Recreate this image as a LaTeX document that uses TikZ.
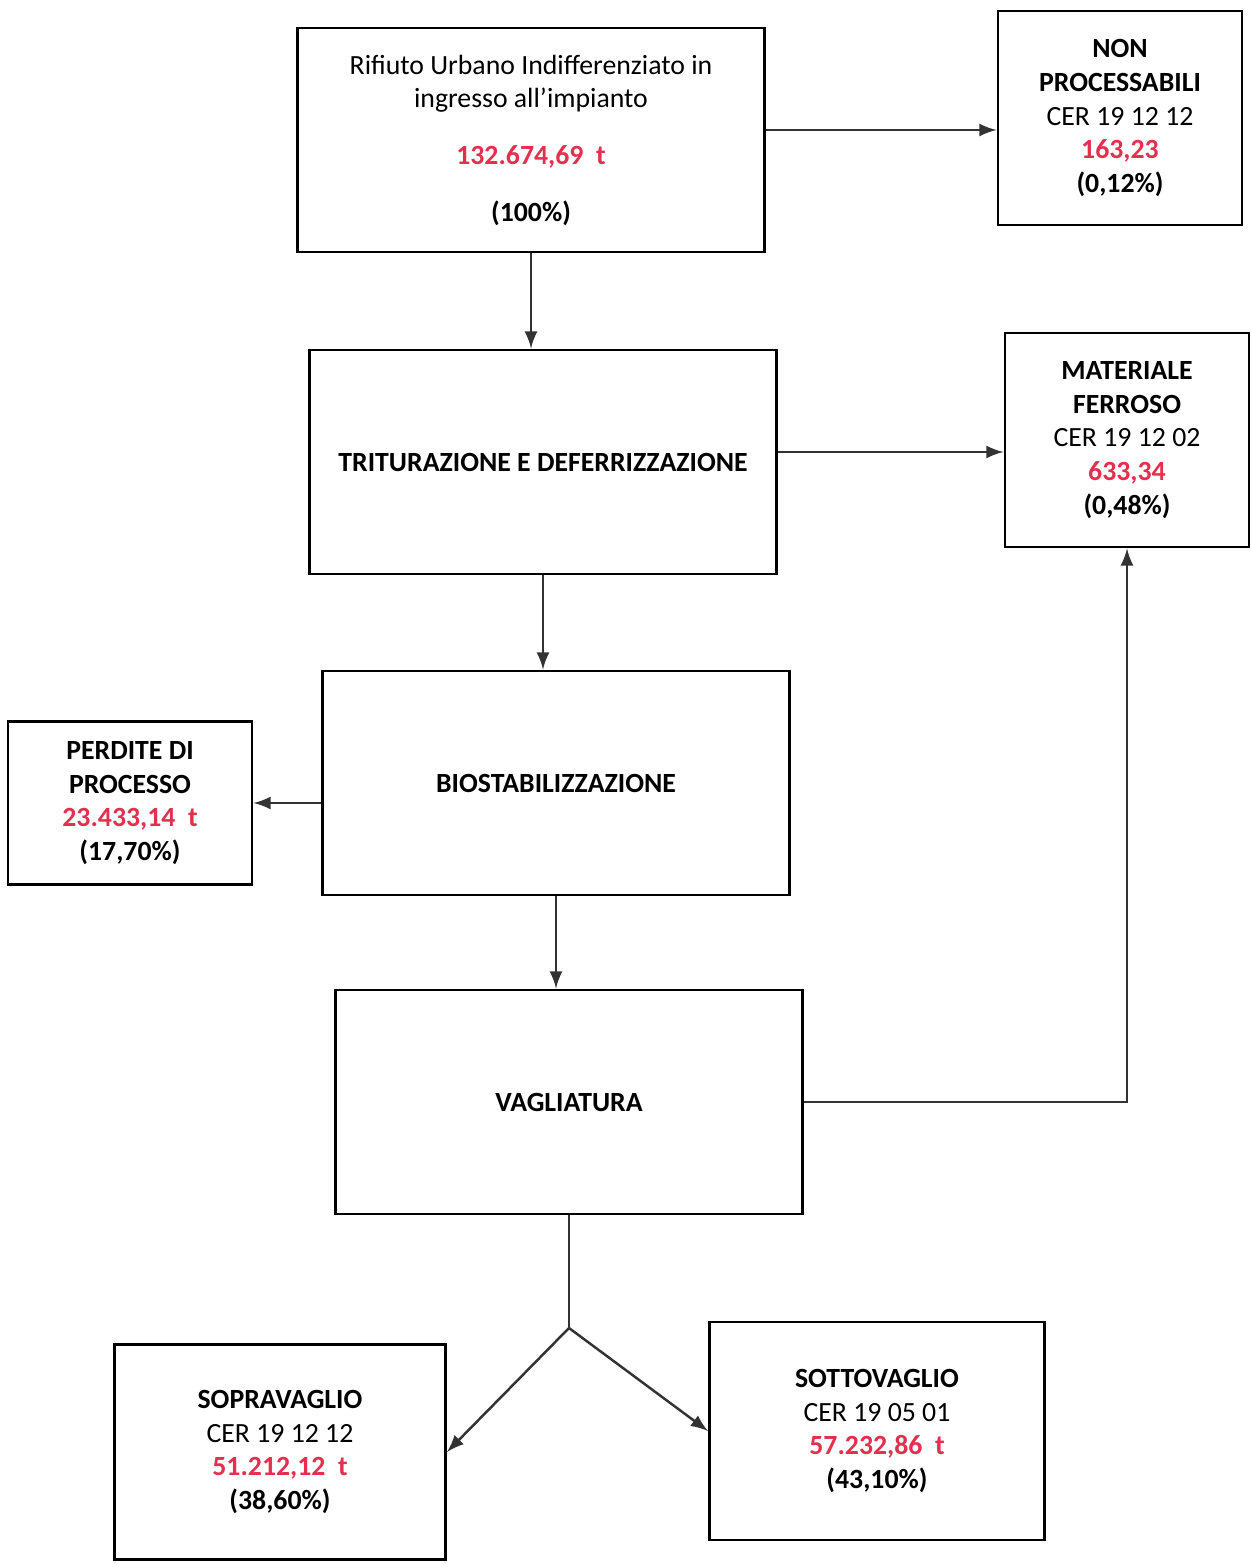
\documentclass[tikz,border=0pt]{standalone}
\usepackage{fontspec}
\setmainfont{Carlito}
\usetikzlibrary{shapes,arrows,positioning,fit}
\definecolor{valred}{RGB}{228,48,78}
\newcommand{\val}[1]{\textcolor{valred}{\textbf{#1}}}

\begin{document}
\begin{tikzpicture}[x=0.01cm,y=-0.01cm]
			\tikzstyle{Stage}	= [draw, line width=0.8pt, align=center, inner sep=2pt, font=\fontsize{7.9}{9.6}\selectfont]
			\tikzstyle{Big}		= [minimum width=4.66cm, minimum height=2.24cm]
			\tikzstyle{Out}		= [minimum width=2.44cm, minimum height=2.14cm]
			\tikzstyle{Flow}	= [-latex, line width=0.7pt, black!80]

			\useasboundingbox (0,0) rectangle (1251,1564);

			\node (rifiuto) at (531,140) [Stage][Big] {Rifiuto Urbano Indifferenziato in\\ ingresso all'impianto\\[6.5pt] \val{132.674,69\ \ t}\\[6.5pt] \textbf{(100\%)}};
			\node (nonproc) at (1120,118) [Stage][Out] {\textbf{NON}\\ \textbf{PROCESSABILI}\\ CER 19 12 12\\ \val{163,23}\\ \textbf{(0,12\%)}};
			\node (trit) at (543,462) [Stage][Big] {\textbf{TRITURAZIONE E DEFERRIZZAZIONE}};
			\node (ferroso) at (1127,440) [Stage][Out] {\textbf{MATERIALE}\\ \textbf{FERROSO}\\ CER 19 12 02\\ \val{633,34}\\ \textbf{(0,48\%)}};
			\node (biostab) at (556,783) [Stage][Big] {\textbf{BIOSTABILIZZAZIONE}};
			\node (perdite) at (130,803) [Stage, minimum width=2.44cm, minimum height=1.63cm] {\textbf{PERDITE DI}\\ \textbf{PROCESSO}\\ \val{23.433,14\ \ t}\\ \textbf{(17,70\%)}};
			\node (vagliatura) at (569,1102) [Stage][Big] {\textbf{VAGLIATURA}};
			\node (sopra) at (280,1452) [Stage, minimum width=3.31cm, minimum height=2.15cm] {\textbf{SOPRAVAGLIO}\\ CER 19 12 12\\ \val{51.212,12\ \ t}\\ \textbf{(38,60\%)}};
			\node (sotto) at (877,1431) [Stage, minimum width=3.35cm, minimum height=2.18cm] {\textbf{SOTTOVAGLIO}\\ CER 19 05 01\\ \val{57.232,86\ \ t}\\ \textbf{(43,10\%)}};
			\coordinate (split) at (569,1328);

			\draw [Flow] (rifiuto.south) to (rifiuto.south |- trit.north);
			\draw [Flow] ([yshift=0.1cm]rifiuto.east) to ([yshift=0.1cm]rifiuto.east -| nonproc.west);
			\draw [Flow] ([yshift=0.1cm]trit.east) to ([yshift=0.1cm]trit.east -| ferroso.west);
			\draw [Flow] (trit.south) to (trit.south |- biostab.north);
			\draw [Flow] (biostab.west |- perdite.east) to (perdite.east);
			\draw [Flow] (biostab.south) to (biostab.south |- vagliatura.north);
			\draw [Flow] (vagliatura.east) -| (ferroso.south);
			\draw [line width=0.7pt, black!80] (vagliatura.south) -- (split);
			\draw [Flow] (split) to (sopra.east);
			\draw [Flow] (split) to (sotto.west);
		\end{tikzpicture}
\end{document}
